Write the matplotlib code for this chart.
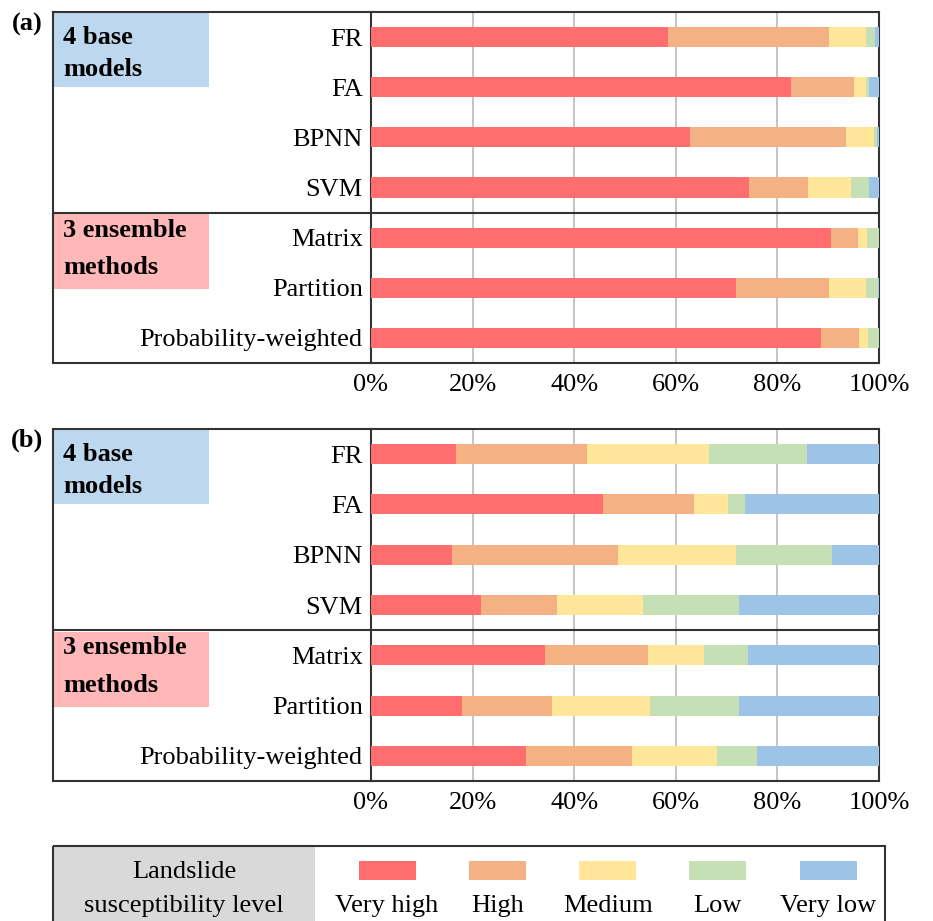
import matplotlib
matplotlib.use("Agg")
import matplotlib.pyplot as plt
from matplotlib.patches import Rectangle
import numpy as np

plt.rcParams['font.family'] = ['Liberation Serif', 'DejaVu Serif']

# susceptibility share (%) per model, order: very high, high, medium, low, very low
models = ['FR', 'FA', 'BPNN', 'SVM', 'Matrix', 'Partition', 'Probability-weighted']
levels = ['Very high', 'High', 'Medium', 'Low', 'Very low']
colors = ['#FF6E6E', '#F4B183', '#FFE699', '#C5E0B4', '#9DC3E6']

area_a = np.array([
    [58.4, 31.7, 7.3, 1.9, 0.7],
    [82.6, 12.4, 2.4, 0.6, 2.0],
    [62.7, 30.8, 5.5, 0.6, 0.4],
    [74.4, 11.6, 8.5, 3.5, 2.0],
    [90.5, 5.3, 1.8, 2.4, 0.0],
    [71.9, 18.2, 7.4, 2.3, 0.2],
    [88.5, 7.6, 1.8, 2.1, 0.0],
])
area_b = np.array([
    [16.7, 25.8, 24.0, 19.3, 14.2],
    [45.7, 17.9, 6.6, 3.5, 26.3],
    [15.9, 32.8, 23.1, 18.9, 9.3],
    [21.6, 15.1, 16.9, 18.8, 27.6],
    [34.3, 20.2, 11.0, 8.7, 25.8],
    [17.9, 17.8, 19.2, 17.5, 27.6],
    [30.6, 20.8, 16.7, 7.8, 24.1],
])
ticks = [0, 20, 40, 60, 80, 100]
tick_labels = ['0%', '20%', '40%', '60%', '80%', '100%']

W, H = 933, 921
fig = plt.figure(figsize=(W / 100, H / 100), dpi=100)


def box(x0, y0, x1, y1):
    return [x0 / W, 1 - y1 / H, (x1 - x0) / W, (y1 - y0) / H]


edge = '#333333'
fs = 19


def panel(data, top, bottom, tag):
    ax = fig.add_axes(box(371, top, 879, bottom))
    lab = fig.add_axes(box(53, top, 371, bottom))
    y = np.arange(len(models))
    left = np.zeros(len(models))
    for j in range(len(levels)):
        ax.barh(y, data[:, j], left=left, height=0.4, color=colors[j], zorder=3)
        left += data[:, j]
    ax.set_xlim(0, 100)
    ax.set_ylim(len(models) - 0.5, -0.5)
    ax.set_xticks(ticks)
    ax.set_xticklabels(tick_labels, fontsize=fs)
    ax.set_yticks(y)
    ax.set_yticklabels(models, fontsize=fs)
    ax.tick_params(length=0, axis='x', pad=8)
    ax.tick_params(length=0, axis='y', pad=6)
    for v in ticks[1:-1]:
        ax.axvline(v, color='#BFBFBF', lw=1.3, zorder=1)
    ax.axhline(3.5, color=edge, lw=1.5, zorder=4)
    for s in ax.spines.values():
        s.set_color(edge)
        s.set_linewidth(1.5)

    lab.set_xlim(0, 1)
    lab.set_ylim(len(models) - 0.5, -0.5)
    lab.set_xticks([])
    lab.set_yticks([])
    lab.patch.set_alpha(0)
    for s in lab.spines.values():
        s.set_color(edge)
        s.set_linewidth(1.5)
    lab.spines['right'].set_visible(False)
    lab.axhline(3.5, color=edge, lw=1.5)
    lab.add_patch(Rectangle((0, -0.5), 0.49, 1.5, color='#BDD7EE', lw=0))
    lab.add_patch(Rectangle((0, 3.53), 0.49, 1.5, color='#FFB7B7', lw=0))
    lab.text(0.032, 0.0, '4 base', fontsize=fs, fontweight='bold', va='center')
    lab.text(0.032, 0.64, 'models', fontsize=fs, fontweight='bold', va='center')
    lab.text(0.032, 3.85, '3 ensemble', fontsize=fs, fontweight='bold', va='center')
    lab.text(0.032, 4.6, 'methods', fontsize=fs, fontweight='bold', va='center')
    fig.text(27 / W, 1 - tag[1] / H, tag[0], fontsize=fs, fontweight='bold',
             ha='center', va='center')


panel(area_a, 12, 363, ('(a)', 24))
panel(area_b, 429, 781, ('(b)', 440))

# legend strip at the bottom, laid out in pixel coordinates
leg = fig.add_axes([0, 0, 1, 1], zorder=-1)
leg.set_xlim(0, W)
leg.set_ylim(H, 0)
leg.axis('off')
leg.add_patch(Rectangle((53, 846), 262, 80, facecolor='#D9D9D9', edgecolor='none'))
leg.add_patch(Rectangle((53, 846), 832, 80, facecolor='none', edgecolor=edge, lw=1.5))
leg.text(184, 872, 'Landslide', fontsize=fs, ha='center', va='center')
leg.text(184, 906, 'susceptibility level', fontsize=fs, ha='center', va='center')
for i, (name, c) in enumerate(zip(levels, colors)):
    cx = 387 + i * 110.3
    leg.add_patch(Rectangle((cx - 28.5, 861), 57, 19, color=c, lw=0))
    leg.text(cx, 906, name, fontsize=fs, ha='center', va='center')

fig.savefig('out.png', dpi=100)
